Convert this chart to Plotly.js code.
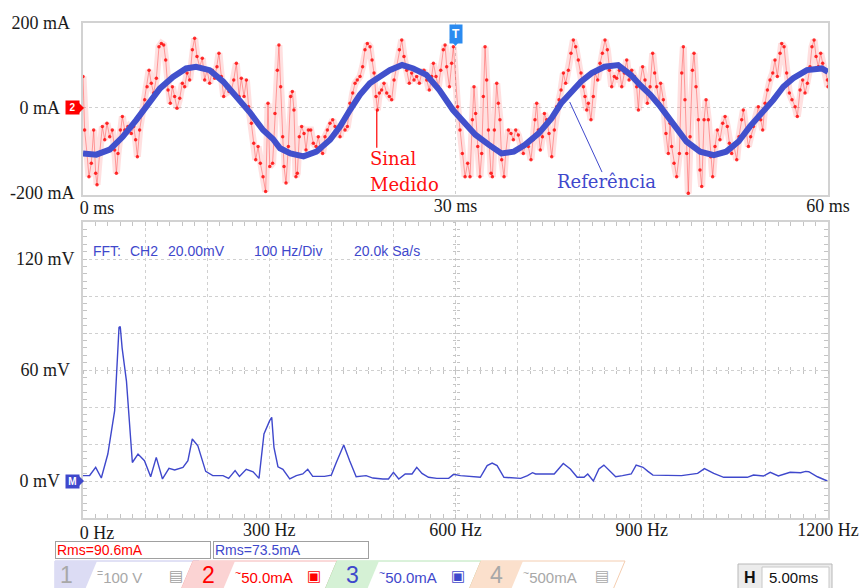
<!DOCTYPE html>
<html><head><meta charset="utf-8">
<script src="https://cdn.plot.ly/plotly-3.0.1.min.js"></script>
<style>html,body{margin:0;padding:0;background:#fff}#chart{width:860px;height:588px}</style>
</head><body><div id="chart"></div>
<script>
// ---- data ----
// measured current (time ms, mA)
const measuredSignal = [[0.00,74],[0.13,-52],[0.32,-107],[0.48,-162],[0.67,-130],[0.86,-52],[1.02,-154],[1.13,-181],[1.34,-107],[1.56,-44],[1.75,-75],[1.93,-36],[2.15,-68],[2.36,-52],[2.55,-99],[2.69,-154],[2.82,-107],[3.01,-52],[3.17,-20],[3.36,-52],[3.62,-44],[3.89,-60],[4.08,-44],[4.24,-75],[4.38,-115],[4.56,-52],[4.78,-13],[4.97,19],[5.16,50],[5.32,89],[5.50,58],[5.69,35],[5.91,70],[6.12,144],[6.31,152],[6.50,148],[6.66,113],[6.85,42],[7.03,11],[7.20,50],[7.38,27],[7.57,-1],[7.79,23],[8.00,58],[8.19,50],[8.38,82],[8.59,66],[8.81,137],[8.99,164],[9.18,121],[9.40,97],[9.61,117],[9.80,66],[9.99,89],[10.20,58],[10.42,89],[10.61,70],[10.79,97],[10.95,129],[11.14,74],[11.33,27],[11.55,54],[11.76,39],[11.95,42],[12.14,66],[12.35,105],[12.57,27],[12.75,70],[12.97,27],[13.16,66],[13.34,3],[13.56,-36],[13.75,-83],[13.91,-122],[14.10,-91],[14.28,-130],[14.50,-162],[14.71,-197],[14.90,11],[15.04,-138],
[15.27,-130],[15.46,-13],[15.65,89],[15.78,148],[15.92,50],[16.08,-68],[16.19,-138],[16.35,-177],[16.54,-91],[16.72,27],[16.86,39],[16.99,-5],[17.15,-162],[17.26,-154],[17.42,-68],[17.61,-44],[17.80,-60],[17.96,-99],[18.15,-52],[18.34,-52],[18.55,-83],[18.77,-91],[18.95,-68],[19.14,-99],[19.30,-107],[19.49,-68],[19.68,-52],[19.89,-36],[20.11,-28],[20.30,-44],[20.48,-52],[20.70,-68],[20.91,-36],[21.10,-52],[21.29,-44],[21.50,11],[21.72,35],[21.91,58],[22.09,66],[22.31,74],[22.52,97],[22.71,137],[22.90,152],[23.12,144],[23.28,113],[23.44,82],[23.60,27],[23.71,-5],[23.87,35],[24.05,42],[24.24,58],[24.46,35],[24.67,27],[24.86,19],[25.05,66],[25.26,97],[25.48,137],[25.67,160],[25.85,121],[26.07,89],[26.28,58],[26.47,82],[26.66,66],[26.87,74],[27.09,58],[27.28,82],[27.46,89],[27.68,66],[27.89,42],[28.08,74],[28.22,105],[28.43,74],[28.62,50],[28.81,89],[29.02,137],[29.16,148],[29.29,97],[29.51,50],[29.69,105],[29.83,144],
[30.17,3],[30.36,-52],[30.55,-107],[30.77,-162],[30.98,-130],[31.17,-162],[31.36,-28],[31.49,50],[31.62,-13],[31.79,-91],[31.97,-162],[32.11,-107],[32.24,27],[32.38,144],[32.51,66],[32.65,-52],[32.86,-154],[32.97,-162],[33.13,-52],[33.32,58],[33.45,11],[33.58,-28],[33.72,-122],[33.91,-162],[34.04,-107],[34.26,-52],[34.47,-60],[34.66,-75],[34.85,-52],[35.06,-64],[35.28,-91],[35.46,-107],[35.65,-83],[35.87,-91],[36.08,-122],[36.27,-75],[36.40,-28],[36.54,11],[36.67,-52],[36.83,-99],[37.00,-68],[37.16,-13],[37.34,-28],[37.53,-60],[37.75,-115],[37.96,-52],[38.15,3],[38.34,19],[38.50,42],[38.69,82],[38.87,58],[39.09,89],[39.30,129],[39.49,160],[39.68,144],[39.89,113],[40.11,82],[40.30,50],[40.43,27],[40.57,-5],[40.70,11],[40.91,-28],[41.10,27],[41.24,82],[41.45,66],[41.64,105],[41.83,129],[42.04,160],[42.23,137],[42.39,89],[42.58,50],[42.79,74],[42.98,70],[43.20,89],[43.39,50],[43.60,82],[43.79,113],[43.98,66],[44.19,89],[44.41,74],[44.59,50],[44.73,-5],
[44.86,58],[45.07,97],[45.26,66],[45.45,11],[45.67,50],[45.88,129],[46.04,82],[46.20,50],[46.42,11],[46.52,58],[46.74,19],[46.95,-60],[47.14,-107],[47.28,-36],[47.41,-91],[47.60,-130],[47.81,-162],[48.03,-107],[48.22,82],[48.35,144],[48.48,19],[48.62,-107],[48.75,-201],[48.89,-68],[49.08,89],[49.21,129],[49.37,50],[49.56,-28],[49.69,-146],[49.83,-185],[50.02,-28],[50.18,19],[50.36,-28],[50.55,-115],[50.71,-162],[50.90,-91],[51.09,-52],[51.30,-75],[51.52,-36],[51.71,-20],[51.89,-44],[52.06,-83],[52.24,-107],[52.43,-91],[52.65,-122],[52.83,-68],[53.05,-28],[53.18,-5],[53.40,-52],[53.59,-91],[53.77,-68],[53.99,-44],[54.20,-28],[54.39,3],[54.58,-28],[54.74,-52],[54.93,11],[55.12,42],[55.33,66],[55.55,82],[55.73,113],[55.92,74],[56.14,129],[56.27,152],[56.46,144],[56.67,82],[56.89,35],[57.10,19],[57.35,3],[57.53,-20],[57.75,42],[57.96,66],[58.15,35],[58.34,58],[58.55,97],[58.71,144],[58.88,160],[59.04,121],[59.22,97],[59.41,129],[59.57,105],[59.76,89],[59.95,66],[60.00,50]];

// reference current (time ms, mA)
const referenceSignal = [[0,-107],[1.07,-110],[2.15,-98],[3.2,-68],[4.3,-28],[5.1,4],[6.2,46],[7.25,73],[8.3,93],[9.1,97],[10.2,89],[11.3,62],[12.35,27],[13.4,-9],[14.5,-52],[15.3,-73],[15.87,-95],[16.7,-107],[17.76,-114],[18.8,-103],[19.9,-75],[20.7,-44],[21.5,-5],[22.3,31],[23.1,58],[23.9,74],[24.7,89],[25.7,101],[26.6,93],[27.66,78],[28.7,42],[29.8,-5],[30.8,-36],[31.6,-63],[32.7,-87],[33.7,-107],[34.7,-103],[35.6,-87],[36.7,-60],[37.74,-24],[38.5,11],[39.3,38],[40.1,62],[40.97,82],[42.0,97],[43.1,101],[44.1,78],[44.86,54],[45.7,31],[46.5,3],[47.5,-36],[48.6,-79],[49.7,-103],[50.8,-111],[51.8,-103],[52.8,-79],[53.7,-44],[54.7,-13],[55.6,19],[56.4,50],[57.2,70],[58.3,89],[59.5,93],[60,85]];

// FFT spectrum (Hz, mV)
const spectrum = [[0,2.9],[10.7,3.0],[20.4,7.4],[29.5,1.6],[40,14.6],[51,38],[58,83],[60,83.5],[63,72],[70,54],[79.5,10],[88.6,14.6],[99,11],[109,2.3],[118,12.8],[128,1.1],[138.5,6.8],[147.6,6.0],[161,7.4],[169,11],[176,22.7],[185,19],[197.6,5.2],[209,2.9],[225.5,2.9],[234.6,1.4],[245,5.6],[252,2.5],[263,6.3],[274,5],[283.5,1.4],[291.5,25.4],[300.7,32.6],[304,34.4],[307.6,18.2],[314,7.7],[322,6.3],[333,1.1],[343.6,2.9],[354,3.8],[362,6.3],[370,2.5],[389,2.5],[400,3.2],[408,10],[420,19.5],[429.5,11],[440,2.3],[456,2.9],[467,1.6],[483,1.1],[492,1.1],[500,4.7],[508.6,1.1],[519,3.8],[530,3.8],[537.6,7.4],[546,4.1],[556.5,2.0],[570,1.4],[589,1.4],[597,3.6],[608,2.9],[640,2.0],[651,8.3],[659,9.7],[667,8.3],[678,2.0],[705,1.4],[716,2.9],[724,4.5],[729,3.8],[759,3.8],[773.6,9.5],[785,6.5],[796,2.0],[807,2.0],[813,3.8],[822,0],[831,6.5],[839,8.6],[847,6.1],[858,2.3],[869,2.9],[883,3.8],[891,8.6],[902,7.4],[910,5.2],[918,3.2],[964,2.9],[990,4.1],[1001,6.7],[1016,4.1],[1032,2.0],[1070,2.0],[1080,3.2],[1096,2.7],[1107,4.7],[1120,2.7],[1139,4.7],[1156,4.5],[1164,5.2],[1169,5.0],[1183,2.3],[1199,0]];

const NB = '\u00a0';
const timeTickVals = [30, 60];
const timeTickText = ['30 ms', '60 ms'];
const timeZeroText = ['0 ms'];
const currentTickVals = [-200, 200];
const currentTickText = ['-200 mA', '200 mA' + NB];
const currentZeroText = ['0 mA'];
const freqTickVals = [300, 600, 900, 1200];
const freqTickText = ['300 Hz', '600 Hz', '900 Hz', '1200 Hz'];
const freqZeroText = ['0 Hz'];
const voltTickVals = [60, 120];
const voltTickText = ['60 mV' + NB, '120 mV'];
const voltZeroText = ['0 mV'];

// ---- layout helpers ----
const W = 860, H = 588;
const px = x => x / W;
const py = y => 1 - y / H;
const xDom = [px(83), px(828)];
const topDom = [py(195), py(23)];
const botDom = [py(518), py(222)];
const tRange = [0, 60];
const iRange = [-205, 200];
const vRange = [-20, 140];
const fRange = [0, 1200];
const midY = botDom[0] + (60 - vRange[0]) / (vRange[1] - vRange[0]) * (botDom[1] - botDom[0]);
const midX = xDom[0] + (600 - fRange[0]) / (fRange[1] - fRange[0]) * (xDom[1] - xDom[0]);
// data units per pixel (for small badge arrows)
const mAperPx = (iRange[1] - iRange[0]) / (195 - 23);
const mVperPx = (vRange[1] - vRange[0]) / (518 - 222);
const msPerPx = 60 / (828 - 83);

const BLUE = '#3f48cc';
const FRAME = '#d2d2d2';
const GRID = '#d0d0d0';
const tickFont = {family: 'Liberation Serif, Times New Roman, serif', size: 18, color: '#1a1a1a'};
const sans = 'Liberation Sans, Arial, sans-serif';

const traces = [
  {x: measuredSignal.map(p => p[0]), y: measuredSignal.map(p => p[1]), xaxis: 'x', yaxis: 'y',
   mode: 'lines', line: {color: 'rgba(255,0,0,0.12)', width: 7}, hoverinfo: 'skip'},
  {x: measuredSignal.map(p => p[0]), y: measuredSignal.map(p => p[1]), xaxis: 'x', yaxis: 'y',
   mode: 'lines+markers', line: {color: 'rgba(255,60,60,0.45)', width: 1},
   marker: {color: 'rgba(255,0,0,0.8)', size: 3.5}, hoverinfo: 'skip'},
  {x: referenceSignal.map(p => p[0]), y: referenceSignal.map(p => p[1]), xaxis: 'x', yaxis: 'y',
   mode: 'lines', line: {color: '#4150cc', width: 6}, hoverinfo: 'skip'},
  {x: spectrum.map(p => p[0]), y: spectrum.map(p => p[1]), xaxis: 'x2', yaxis: 'y2',
   mode: 'lines', line: {color: BLUE, width: 1.4}, hoverinfo: 'skip'},
  // empty helper traces so the overlay axes get drawn
  {x: [], y: [], xaxis: 'x3', yaxis: 'y2', mode: 'lines'},
  {x: [], y: [], xaxis: 'x4', yaxis: 'y2', mode: 'lines'},
  {x: [], y: [], xaxis: 'x5', yaxis: 'y2', mode: 'lines'},
  {x: [], y: [], xaxis: 'x2', yaxis: 'y3', mode: 'lines'},
  {x: [], y: [], xaxis: 'x2', yaxis: 'y4', mode: 'lines'},
  {x: [], y: [], xaxis: 'x2', yaxis: 'y5', mode: 'lines'},
  {x: [], y: [], xaxis: 'x', yaxis: 'y6', mode: 'lines'},
  {x: [], y: [], xaxis: 'x2', yaxis: 'y7', mode: 'lines'},
  {x: [], y: [], xaxis: 'x6', yaxis: 'y', mode: 'lines'},
  {x: [], y: [], xaxis: 'x7', yaxis: 'y2', mode: 'lines'}
];

const frameAxis = {showline: true, mirror: true, linecolor: FRAME, linewidth: 2, zeroline: false,
  ticks: '', fixedrange: true, automargin: false, tickfont: tickFont};
const gridStyle = {gridcolor: GRID, griddash: 'dot', gridwidth: 1};

const tickOverlay = (extra) => Object.assign({showticklabels: false, showgrid: false, zeroline: false,
  tickcolor: '#c4c4c4', tickwidth: 1, fixedrange: true, automargin: false, showline: false}, extra);

const layout = {
  width: W, height: H, margin: {l: 0, r: 0, t: 0, b: 0}, showlegend: false,
  paper_bgcolor: '#fff', plot_bgcolor: '#fff',
  xaxis: Object.assign({}, frameAxis, {domain: xDom, range: tRange, anchor: 'y',
    tickmode: 'array', tickvals: timeTickVals, ticktext: timeTickText, showgrid: false, ticklabelstandoff: -7,
    minor: Object.assign({tickmode: 'array', tickvals: [30], showgrid: true, ticks: ''}, gridStyle)}),
  // first label of each x axis is shifted right, as on the scope screen
  xaxis6: tickOverlay({overlaying: 'x', anchor: 'y', range: tRange, tickmode: 'array', tickvals: [0], ticktext: timeZeroText,
    showticklabels: true, ticks: '', ticklabelstandoff: 0, ticklabelshift: 14, tickfont: tickFont}),
  yaxis: Object.assign({}, frameAxis, {domain: topDom, range: iRange, anchor: 'x',
    tickmode: 'array', tickvals: currentTickVals, ticktext: currentTickText, showgrid: false, ticklabelstandoff: 3,
    minor: Object.assign({tickmode: 'array', tickvals: [0], showgrid: true, ticks: ''}, gridStyle)}),
  // zero label of the current axis, set further out to leave room for the channel badge
  yaxis6: tickOverlay({overlaying: 'y', anchor: 'x', range: iRange, tickmode: 'array', tickvals: [0], ticktext: currentZeroText,
    showticklabels: true, ticks: '', ticklabelstandoff: 22, tickfont: tickFont}),
  xaxis2: Object.assign({}, frameAxis, gridStyle, {domain: xDom, range: fRange, anchor: 'y2',
    tickmode: 'array', tickvals: freqTickVals, ticktext: freqTickText, showgrid: true, ticklabelstandoff: -6,
    minor: Object.assign({tick0: 0, dtick: 100, showgrid: true, ticks: ''}, gridStyle)}),
  xaxis7: tickOverlay({overlaying: 'x2', anchor: 'y2', range: fRange, tickmode: 'array', tickvals: [0], ticktext: freqZeroText,
    showticklabels: true, ticks: '', ticklabelstandoff: 2, ticklabelshift: 14, tickfont: tickFont}),
  yaxis2: Object.assign({}, frameAxis, gridStyle, {domain: botDom, range: vRange, anchor: 'x2',
    tickmode: 'array', tickvals: voltTickVals, ticktext: voltTickText, showgrid: true, ticklabelstandoff: 3,
    minor: Object.assign({tick0: 0, dtick: 20, showgrid: true, ticks: ''}, gridStyle)}),
  yaxis7: tickOverlay({overlaying: 'y2', anchor: 'x2', range: vRange, tickmode: 'array', tickvals: [0], ticktext: voltZeroText,
    showticklabels: true, ticks: '', ticklabelstandoff: 22, tickfont: tickFont}),
  // small graticule ticks along the frame
  xaxis3: tickOverlay({overlaying: 'x2', anchor: 'y2', range: fRange, tick0: 0, dtick: 20, ticks: 'inside', ticklen: 4, mirror: 'allticks', showline: true, linecolor: FRAME, linewidth: 2}),
  yaxis3: tickOverlay({overlaying: 'y2', anchor: 'x2', range: vRange, tick0: 0, dtick: 4, ticks: 'inside', ticklen: 4, mirror: 'allticks', showline: true, linecolor: FRAME, linewidth: 2}),
  // centre cross ticks
  xaxis4: tickOverlay({overlaying: 'x2', anchor: 'free', position: midY, range: fRange, tick0: 0, dtick: 20, ticks: 'inside', ticklen: 3}),
  xaxis5: tickOverlay({overlaying: 'x2', anchor: 'free', position: midY, range: fRange, tick0: 0, dtick: 20, ticks: 'outside', ticklen: 3}),
  yaxis4: tickOverlay({overlaying: 'y2', anchor: 'free', position: midX, range: vRange, tick0: 0, dtick: 4, ticks: 'inside', ticklen: 3}),
  yaxis5: tickOverlay({overlaying: 'y2', anchor: 'free', position: midX, range: vRange, tick0: 0, dtick: 4, ticks: 'outside', ticklen: 3}),
  shapes: [],
  annotations: []
};

// pointer lines for the labels
layout.shapes.push({type: 'line', xref: 'x', yref: 'y', x0: 23.66, x1: 23.66, y0: -5, y1: -94, line: {color: '#ff0000', width: 1.2}});
layout.shapes.push({type: 'line', xref: 'x', yref: 'y', x0: 39.2, x1: 41.8, y0: 14, y1: -151, line: {color: BLUE, width: 1}});

// badge arrow tips (small triangles)
const triRight = (yref, h) => ({type: 'path', xref: 'paper', yref: yref, layer: 'above',
  path: `M${px(79)},${h} L${px(84)},0 L${px(79)},${-h} Z`, fillcolor: yref === 'y' ? '#ff0000' : BLUE, line: {width: 0}});
layout.shapes.push(triRight('y', 5 * mAperPx));
layout.shapes.push(triRight('y2', 5 * mVperPx));
layout.shapes.push({type: 'path', xref: 'x', yref: 'paper', layer: 'above',
  path: `M${30 - 6 * msPerPx},${py(39)} L${30 + 6 * msPerPx},${py(39)} L30,${py(46)} Z`, fillcolor: '#2b8bf0', line: {width: 0}});

const A = layout.annotations;
const serifLbl = 'DejaVu Serif, serif';
A.push({xref: 'x', yref: 'y', x: 22.95, y: -118, xanchor: 'left', yanchor: 'middle', text: 'Sinal', showarrow: false, font: {family: serifLbl, size: 18, color: '#ff1010'}});
A.push({xref: 'x', yref: 'y', x: 22.95, y: -181, xanchor: 'left', yanchor: 'middle', text: 'Medido', showarrow: false, font: {family: serifLbl, size: 18, color: '#ff1010'}});
A.push({xref: 'x', yref: 'y', x: 38.0, y: -174, xanchor: 'left', yanchor: 'middle', text: 'Referência', showarrow: false, font: {family: serifLbl, size: 18, color: BLUE}});

// trigger marker and channel badges
A.push({xref: 'x', yref: 'paper', x: 30, y: py(24), xanchor: 'center', yanchor: 'top', text: '<b>T</b>', showarrow: false, bgcolor: '#2b8bf0', borderpad: 2, font: {family: sans, size: 12, color: '#fff'}});
A.push({xref: 'paper', yref: 'y', x: px(80), y: 0, xanchor: 'right', yanchor: 'middle', text: '<b>2</b>', showarrow: false, bgcolor: '#ff0000', borderpad: 1, width: 11, font: {family: sans, size: 10, color: '#fff'}});
A.push({xref: 'paper', yref: 'y2', x: px(80), y: 0, xanchor: 'right', yanchor: 'middle', text: '<b>M</b>', showarrow: false, bgcolor: BLUE, borderpad: 1, width: 11, font: {family: sans, size: 10, color: '#fff'}});

// FFT header
const hdr = [['FFT:', 91], ['CH2', 128], ['20.00mV', 166], ['100 Hz/Div', 252], ['20.0k Sa/s', 352]];
hdr.forEach(h => A.push({xref: 'paper', yref: 'paper', x: px(h[1]), y: py(251), xanchor: 'left', yanchor: 'middle', text: h[0], showarrow: false, font: {family: sans, size: 14, color: BLUE}}));

// RMS boxes
A.push({xref: 'paper', yref: 'paper', x: px(55), y: py(549.5), xanchor: 'left', yanchor: 'middle', text: 'Rms=90.6mA', align: 'left', width: 152, height: 14, showarrow: false, bordercolor: '#a0a0a0', borderwidth: 1, borderpad: 1, bgcolor: '#fff', font: {family: sans, size: 14, color: '#ff0000'}});
A.push({xref: 'paper', yref: 'paper', x: px(213), y: py(549.5), xanchor: 'left', yanchor: 'middle', text: 'Rms=73.5mA', align: 'left', width: 152, height: 14, showarrow: false, bordercolor: '#a0a0a0', borderwidth: 1, borderpad: 1, bgcolor: '#fff', font: {family: sans, size: 14, color: BLUE}});

// channel bar
const chans = [
  {x: 55, num: '1', numColor: '#a8a8a8', hatch: '#dcdcf4', edge: '#c4c4ec', label: '<sup>=</sup>100 V', labColor: '#a8a8a8', icon: '▤', iconColor: '#a0a0a0'},
  {x: 193, num: '2', numColor: '#ff0000', hatch: '#fbd3d3', edge: '#f6b4b4', label: '<sup>~</sup>50.0mA', labColor: '#ff0000', icon: '▣', iconColor: '#ff0000'},
  {x: 337, num: '3', numColor: BLUE, hatch: '#d5f1d5', edge: '#b6e4b6', label: '<sup>~</sup>50.0mA', labColor: BLUE, icon: '▣', iconColor: BLUE},
  {x: 481, num: '4', numColor: '#a8a8a8', hatch: '#fbe0cc', edge: '#f4cdb0', label: '<sup>~</sup>500mA', labColor: '#a8a8a8', icon: '▤', iconColor: '#a8a8a8'}
];
const yT = 561, yB = 592, sl = 13;
const P = (x, y) => px(x) + ',' + py(y);
chans.forEach((c, i) => {
  const x0 = c.x, xe = c.x + 144, xh = c.x + 42;
  const left0 = i === 0 ? x0 : x0 - sl;
  layout.shapes.push({type: 'path', xref: 'paper', yref: 'paper', layer: 'above',
    path: `M${P(x0, yT)} L${P(xe, yT)} L${P(xe - sl, yB)} L${P(left0, yB)} Z`, fillcolor: '#fff', line: {color: c.edge, width: 1}});
  layout.shapes.push({type: 'path', xref: 'paper', yref: 'paper', layer: 'above',
    path: `M${P(x0, yT)} L${P(xh, yT)} L${P(xh - sl, yB)} L${P(left0, yB)} Z`, fillcolor: c.hatch, line: {width: 0}});
  A.push({xref: 'paper', yref: 'paper', x: px(x0 + (i === 0 ? 11 : 15)), y: py(575), xanchor: 'center', yanchor: 'middle', text: c.num, showarrow: false, font: {family: sans, size: 23, color: c.numColor}});
  A.push({xref: 'paper', yref: 'paper', x: px(x0 + 40), y: py(576), xanchor: 'left', yanchor: 'middle', text: c.label, showarrow: false, font: {family: sans, size: 15, color: c.labColor}});
  A.push({xref: 'paper', yref: 'paper', x: px(x0 + 121), y: py(576), xanchor: 'center', yanchor: 'middle', text: c.icon, showarrow: false, font: {family: 'DejaVu Sans, sans-serif', size: 15, color: c.iconColor}});
});

// H box
layout.shapes.push({type: 'rect', xref: 'paper', yref: 'paper', layer: 'above', x0: px(738), x1: px(832), y0: py(592), y1: py(564), fillcolor: '#ececec', line: {color: '#b8b8b8', width: 1}});
layout.shapes.push({type: 'rect', xref: 'paper', yref: 'paper', layer: 'above', x0: px(762), x1: px(829), y0: py(592), y1: py(567), fillcolor: '#ffffff', line: {color: '#c8c8c8', width: 1}});
A.push({xref: 'paper', yref: 'paper', x: px(750), y: py(577), xanchor: 'center', yanchor: 'middle', text: '<b>H</b>', showarrow: false, font: {family: sans, size: 16, color: '#111'}});
A.push({xref: 'paper', yref: 'paper', x: px(767), y: py(577), xanchor: 'left', yanchor: 'middle', text: '5.00ms', showarrow: false, font: {family: sans, size: 15, color: '#111'}});

Plotly.newPlot('chart', traces, layout, {staticPlot: true, displayModeBar: false});
</script>
</body></html>
